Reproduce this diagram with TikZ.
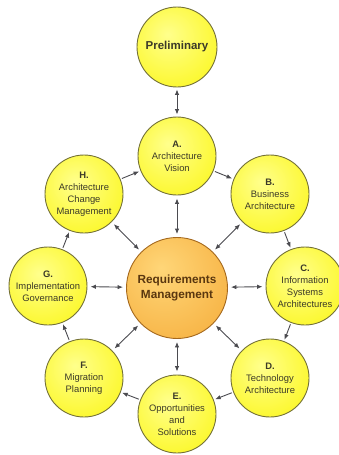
\documentclass[tikz,border=0pt]{standalone}
\usepackage{fontspec}
\setmainfont{Liberation Sans}
\usepackage{tikz}
\usetikzlibrary{arrows.meta, positioning, shapes, calc}
\definecolor{phaseFill}{RGB}{252, 248, 50}
\definecolor{phaseLight}{RGB}{255, 255, 140}
\definecolor{phaseEdge}{RGB}{115, 112, 55}
\definecolor{phaseText}{RGB}{60, 58, 40}
\definecolor{reqLight}{RGB}{255, 214, 120}
\definecolor{reqFill}{RGB}{242, 160, 40}
\definecolor{reqEdge}{RGB}{165, 105, 30}
\definecolor{reqText}{RGB}{90, 55, 15}
\definecolor{linkGray}{RGB}{75, 75, 80}
\pgfdeclareradialshading{phaseGlow}{\pgfpoint{-6bp}{8bp}}{%
  color(0bp)=(phaseLight); color(30bp)=(phaseFill); color(70bp)=(phaseFill)}
\pgfdeclareradialshading{reqGlow}{\pgfpoint{-8bp}{10bp}}{%
  color(0bp)=(reqLight); color(55bp)=(reqFill); color(80bp)=(reqFill)}

\begin{document}
\begin{tikzpicture}[
    x=1pt, y=-1pt,
    phase_node/.style={
        circle,
        draw=phaseEdge,
        line width=0.9pt,
        shading=phaseGlow,
        minimum size=78pt,
        inner sep=0pt,
        align=center,
        text=phaseText,
        font=\fontsize{9.4}{12}\selectfont
    },
    prelim_node/.style={
        phase_node,
        minimum size=80pt,
        font=\bfseries\fontsize{11.5}{14}\selectfont
    },
    req_node/.style={
        circle,
        draw=reqEdge,
        line width=0.9pt,
        shading=reqGlow,
        minimum size=101pt,
        inner sep=0pt,
        align=center,
        text=reqText,
        font=\bfseries\fontsize{11.8}{15.5}\selectfont
    },
    cycle_link/.style={
        -{Latex[length=5.5pt, width=4.5pt]},
        line width=0.9pt,
        draw=linkGray,
        shorten >=1.5pt,
        shorten <=1.5pt
    },
    req_link/.style={
        {Latex[length=5.5pt, width=4.5pt]}-{Latex[length=5.5pt, width=4.5pt]},
        line width=0.9pt,
        draw=linkGray,
        shorten >=3pt,
        shorten <=3pt
    }
]
    \useasboundingbox (0,0) rectangle (338,455);

    % Preliminary
    \node[prelim_node] (prelim) at (177, 47) {Preliminary};

    % ADM cycle
    \node[phase_node] (phaseA) at (177, 156) {\textbf{A.}\\Architecture\\Vision};
    \node[phase_node] (phaseB) at (270, 194) {\textbf{B.}\\Business\\Architecture};
    \node[phase_node] (phaseC) at (305, 286) {\textbf{C.}\\Information\\Systems\\Architectures};
    \node[phase_node] (phaseD) at (270, 378) {\textbf{D.}\\Technology\\Architecture};
    \node[phase_node] (phaseE) at (177, 414) {\textbf{E.}\\Opportunities\\and\\Solutions};
    \node[phase_node] (phaseF) at (84, 378) {\textbf{F.}\\Migration\\Planning};
    \node[phase_node] (phaseG) at (48, 286) {\textbf{G.}\\Implementation\\Governance};
    \node[phase_node] (phaseH) at (84, 194) {\textbf{H.}\\Architecture\\Change\\Management};

    % Requirements in the middle
    \node[req_node] (reqs) at (177, 288) {Requirements\\Management};

    % Cycle Flows
    \draw[req_link, shorten >=2pt, shorten <=2pt] (prelim) -- (phaseA);
    \draw[cycle_link] (phaseA) -- (phaseB);
    \draw[cycle_link] (phaseB) -- (phaseC);
    \draw[cycle_link] (phaseC) -- (phaseD);
    \draw[cycle_link] (phaseD) -- (phaseE);
    \draw[cycle_link] (phaseE) -- (phaseF);
    \draw[cycle_link] (phaseF) -- (phaseG);
    \draw[cycle_link] (phaseG) -- (phaseH);
    \draw[cycle_link] (phaseH) -- (phaseA);

    % Requirements Links
    \foreach \p in {A, B, C, D, E, F, G, H}
        \draw[req_link] (reqs) -- (phase\p);
\end{tikzpicture}
\end{document}
